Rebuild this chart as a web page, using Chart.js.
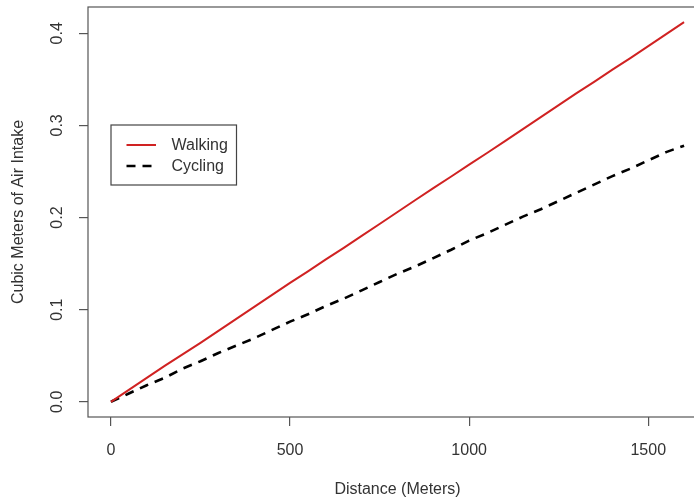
<!DOCTYPE html>
<html>
<head>
<meta charset="utf-8">
<script src="https://cdn.jsdelivr.net/npm/chart.js@4/dist/chart.umd.min.js"></script>
<style>
html,body{margin:0;padding:0;background:#fff;overflow:hidden;}
#wrap{position:absolute;left:0;top:0;width:710px;height:499px;}
</style>
</head>
<body>
<div id="wrap"><canvas id="c" width="710" height="499"></canvas></div>
<script>
// Distance in meters
const distances = [0,50,100,150,200,250,300,350,400,450,500,550,600,650,700,750,800,850,900,950,1000,1050,1100,1150,1200,1250,1300,1350,1400,1450,1500,1550,1600];
// Cubic meters of air intake
const walking = [0,0.013,0.026,0.039,0.0515,0.064,0.077,0.090,0.103,0.116,0.129,0.1415,0.1545,0.167,0.180,0.193,0.206,0.219,0.232,0.2445,0.2575,0.270,0.283,0.296,0.309,0.322,0.335,0.3475,0.3605,0.373,0.386,0.399,0.412];
const cycling = [0,0.009,0.018,0.026,0.036,0.044,0.053,0.061,0.069,0.078,0.087,0.095,0.104,0.112,0.121,0.130,0.139,0.147,0.156,0.165,0.175,0.183,0.192,0.201,0.209,0.218,0.227,0.236,0.245,0.253,0.262,0.271,0.278];
const xTicks = [0,500,1000,1500];
const yTicks = [0.0,0.1,0.2,0.3,0.4];
const seriesNames = ['Walking','Cycling'];

const axisColor = '#555';
const textColor = '#333';
const FONT = 'Liberation Sans, Arial, sans-serif';

const boxAndLabels = {
  id:'boxAndLabels',
  afterDraw(chart){
    const ctx = chart.ctx, a = chart.chartArea;
    ctx.save();
    ctx.strokeStyle = axisColor; ctx.lineWidth = 1.2;
    ctx.strokeRect(a.left, a.top, a.right - a.left, a.bottom - a.top);
    // rotated y tick labels
    const ys = chart.scales.y;
    ctx.fillStyle = textColor;
    ctx.font = '16px ' + FONT;
    ctx.textAlign = 'center'; ctx.textBaseline = 'middle';
    ys.ticks.forEach(t => {
      const py = ys.getPixelForValue(t.value);
      ctx.save();
      ctx.translate(58, py);
      ctx.rotate(-Math.PI/2);
      ctx.fillText(t.value.toFixed(1), 0, 0);
      ctx.restore();
    });
    // legend
    const lx = 111, ly = 125, lw = 125.5, lh = 60;
    ctx.fillStyle = '#fff';
    ctx.fillRect(lx, ly, lw, lh);
    ctx.strokeStyle = '#444'; ctx.lineWidth = 1.2;
    ctx.strokeRect(lx, ly, lw, lh);
    const ds = chart.data.datasets;
    const rows = [145, 166];
    ds.forEach((d, i) => {
      ctx.beginPath();
      ctx.strokeStyle = d.borderColor;
      ctx.lineWidth = d.borderWidth;
      ctx.setLineDash(d.borderDash || []);
      ctx.moveTo(126.5, rows[i]);
      ctx.lineTo(156, rows[i]);
      ctx.stroke();
      ctx.setLineDash([]);
      ctx.fillStyle = textColor;
      ctx.textAlign = 'left'; ctx.textBaseline = 'middle';
      ctx.fillText(d.label, 171.5, rows[i] + 1);
    });
    ctx.restore();
  }
};

new Chart(document.getElementById('c'), {
  type: 'line',
  data: {
    labels: distances,
    datasets: [
      { label: seriesNames[0], data: distances.map((x,i)=>({x, y: walking[i]})), borderColor: '#d02222', borderWidth: 2, pointRadius: 0, tension: 0, fill: false },
      { label: seriesNames[1], data: distances.map((x,i)=>({x, y: cycling[i]})), borderColor: '#000', borderWidth: 2.6, borderDash: [9,7], pointRadius: 0, tension: 0, fill: false }
    ]
  },
  options: {
    responsive: false,
    animation: false,
    devicePixelRatio: 1,
    layout: { padding: { left: 0, top: 7, right: 3, bottom: 0 } },
    plugins: { legend: { display: false }, tooltip: { enabled: false } },
    scales: {
      x: {
        type: 'linear', min: -64, max: 1664,
        afterFit(s){ s.height = 82; s.paddingLeft = 0; s.paddingRight = 0; },
        afterBuildTicks(s){ s.ticks = xTicks.map(v => ({value: v})); },
        grid: { display: true, drawOnChartArea: false, drawTicks: true, tickLength: 9, color: axisColor, lineWidth: 1.2 },
        border: { display: false },
        ticks: { color: textColor, font: { size: 16, family: FONT }, padding: 15, maxRotation: 0, callback: v => String(v) },
        title: { display: true, text: 'Distance (Meters)', color: textColor, font: { size: 16, family: FONT }, padding: { top: 0, bottom: 0 } }
      },
      y: {
        type: 'linear', min: -0.0165, max: 0.4285,
        afterFit(s){ s.width = 88; s.paddingTop = 0; s.paddingBottom = 0; },
        afterBuildTicks(s){ s.ticks = yTicks.map(v => ({value: v})); },
        grid: { display: true, drawOnChartArea: false, drawTicks: true, tickLength: 9, color: axisColor, lineWidth: 1.2 },
        border: { display: false },
        ticks: { color: 'rgba(0,0,0,0)', font: { size: 1, family: FONT }, padding: 0, callback: v => v.toFixed(1) },
        title: { display: true, text: 'Cubic Meters of Air Intake', color: textColor, font: { size: 16, family: FONT }, padding: { top: 9, bottom: 0 } }
      }
    }
  },
  plugins: [boxAndLabels]
});
</script>
</body>
</html>
